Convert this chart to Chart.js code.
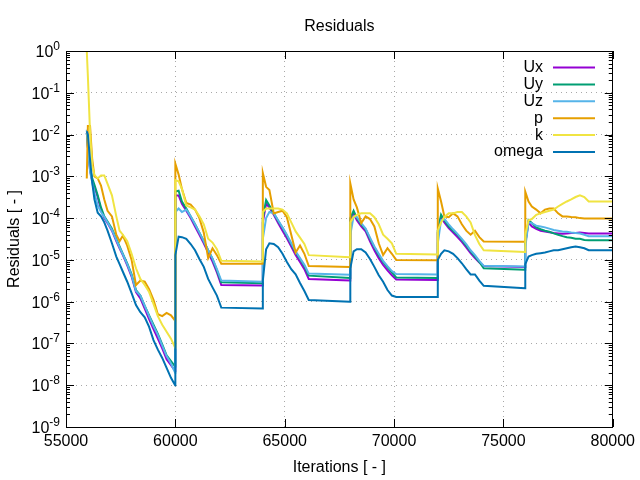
<!DOCTYPE html>
<html>
<head>
<meta charset="utf-8">
<title>Residuals</title>
<script src="https://cdn.jsdelivr.net/npm/chart.js@4.4.1/dist/chart.umd.min.js"></script>
<style>
body{margin:0;background:#fff}
</style>
</head>
<body>
<canvas id="residuals" width="640" height="480"></canvas>
<script>
const iterations=[
  55950,56000,56100,56200,56300,56450,56600,56750,56900,57100,57300,57450,57600,57800,58000,58200,58400,58600,58800,59000,59200,59400,59600,59800,59990,
  60000,60150,60300,60500,60700,60900,61100,61300,61500,61700,61900,62100,63990,
  64000,64150,64300,64500,64700,64900,65100,65300,65500,65700,65900,66100,67990,
  68000,68150,68300,68500,68700,68900,69100,69300,69500,69700,69900,70100,71990,
  72000,72150,72300,72500,72700,72900,73100,73300,73500,73700,73900,74100,75990,
  76000,76150,76300,76500,76700,76900,77100,77300,77500,77700,77900,78100,78300,78500,78700,78900,80000
]

const ux=[
  1.1e-2,5.0e-3,1.4e-3,7.9e-4,5.6e-4,3.2e-4,1.6e-4,1.0e-4,7.6e-5,5.0e-5,2.8e-5,1.9e-5,1.3e-5,7.4e-6,4.0e-6,1.7e-6,1.2e-6,6.8e-7,3.8e-7,2.2e-7,1.3e-7,7.6e-8,4.2e-8,3.0e-8,2.2e-8,
  3.5e-4,3.5e-4,2.2e-4,1.5e-4,1.0e-4,6.3e-5,4.0e-5,2.5e-5,1.5e-5,9.1e-6,5.0e-6,2.5e-6,2.45e-6,
  7.9e-5,2.2e-4,1.8e-4,1.2e-4,7.6e-5,5.0e-5,3.3e-5,2.1e-5,1.3e-5,8.9e-6,6.0e-6,3.5e-6,3.2e-6,
  7.9e-5,1.3e-4,8.9e-5,6.3e-5,4.8e-5,2.8e-5,1.7e-5,1.1e-5,7.6e-6,5.6e-6,4.3e-6,3.4e-6,3.3e-6,
  4.5e-5,1.05e-4,7.9e-5,5.8e-5,4.5e-5,3.5e-5,2.7e-5,2.0e-5,1.45e-5,1.1e-5,8.7e-6,7.1e-6,6.8e-6,
  2.5e-5,7.9e-5,6.3e-5,5.5e-5,5.0e-5,4.8e-5,4.6e-5,4.4e-5,4.3e-5,4.2e-5,4.3e-5,4.4e-5,4.4e-5,4.5e-5,4.4e-5,4.3e-5,4.3e-5
]
const uy=[
  1.1e-2,5.0e-3,1.6e-3,8.9e-4,6.3e-4,3.5e-4,1.8e-4,1.1e-4,8.3e-5,5.6e-5,3.2e-5,2.1e-5,1.4e-5,8.3e-6,4.5e-6,1.9e-6,1.4e-6,7.9e-7,4.7e-7,2.8e-7,1.7e-7,9.5e-8,5.2e-8,3.8e-8,2.8e-8,
  4.3e-4,4.5e-4,2.5e-4,1.7e-4,1.1e-4,7.1e-5,4.5e-5,2.8e-5,1.7e-5,1.05e-5,5.6e-6,2.9e-6,2.75e-6,
  1.0e-4,2.7e-4,2.0e-4,1.3e-4,8.5e-5,5.8e-5,3.8e-5,2.4e-5,1.5e-5,1.05e-5,7.1e-6,4.2e-6,3.7e-6,
  1.0e-4,1.5e-4,1.0e-4,7.1e-5,5.4e-5,3.2e-5,2.0e-5,1.3e-5,8.9e-6,6.6e-6,5.0e-6,3.8e-6,3.7e-6,
  5.0e-5,1.2e-4,8.9e-5,6.3e-5,5.0e-5,4.0e-5,3.0e-5,2.2e-5,1.6e-5,1.2e-5,8.9e-6,6.3e-6,5.8e-6,
  2.5e-5,8.9e-5,7.6e-5,6.0e-5,5.4e-5,5.0e-5,4.7e-5,4.3e-5,4.0e-5,3.7e-5,3.5e-5,3.4e-5,3.2e-5,3.2e-5,3.0e-5,2.95e-5,2.95e-5
]
const uz=[
  1.3e-2,5.0e-3,1.3e-3,7.1e-4,4.0e-4,2.0e-4,1.4e-4,1.07e-4,7.9e-5,5.2e-5,3.0e-5,2.0e-5,1.35e-5,7.9e-6,4.3e-6,1.8e-6,1.4e-6,7.9e-7,4.5e-7,2.6e-7,1.6e-7,8.9e-8,5.0e-8,3.3e-8,2.0e-8,
  1.4e-4,1.7e-4,1.4e-4,1.6e-4,1.1e-4,7.1e-5,4.5e-5,2.8e-5,1.7e-5,1.07e-5,6.0e-6,3.2e-6,3.0e-6,
  3.2e-5,1.0e-4,1.4e-4,1.3e-4,8.9e-5,6.0e-5,4.0e-5,2.5e-5,1.6e-5,1.1e-5,7.6e-6,4.7e-6,4.4e-6,
  4.0e-5,1.1e-4,1.05e-4,7.6e-5,5.6e-5,3.4e-5,2.1e-5,1.4e-5,9.5e-6,7.1e-6,5.4e-6,4.6e-6,4.5e-6,
  2.5e-5,8.9e-5,9.5e-5,7.1e-5,5.4e-5,4.2e-5,3.2e-5,2.4e-5,1.7e-5,1.3e-5,9.5e-6,7.2e-6,6.9e-6,
  2.0e-5,7.9e-5,7.6e-5,6.6e-5,6.3e-5,6.0e-5,5.6e-5,5.2e-5,5.0e-5,4.8e-5,4.7e-5,4.5e-5,4.4e-5,4.3e-5,4.0e-5,3.7e-5,3.7e-5
]
const p=[
  8.9e-4,1.6e-2,1.6e-2,2.5e-3,1.0e-3,8.9e-4,6.0e-4,2.8e-4,1.5e-4,1.1e-4,4.0e-5,2.8e-5,3.8e-5,2.2e-5,1.0e-5,2.5e-6,3.2e-6,3.0e-6,2.0e-6,1.1e-6,5.0e-7,4.5e-7,5.4e-7,4.7e-7,3.5e-7,
  2.0e-3,1.1e-3,5.0e-4,2.3e-4,2.1e-4,1.6e-4,1.0e-4,4.5e-5,1.1e-5,1.9e-5,1.3e-5,8.1e-6,8.1e-6,
  1.2e-3,5.6e-4,4.7e-4,1.3e-4,1.4e-4,1.5e-4,1.05e-4,4.0e-5,1.5e-5,2.2e-5,1.4e-5,7.1e-6,6.8e-6,
  6.8e-4,2.8e-4,1.8e-4,7.6e-5,1.1e-4,9.5e-5,6.3e-5,2.5e-5,1.3e-5,1.9e-5,1.4e-5,1.0e-5,9.8e-6,
  5.1e-4,2.5e-4,1.1e-4,1.05e-4,1.3e-4,1.1e-4,7.1e-5,5.0e-5,4.0e-5,5.0e-5,3.5e-5,2.75e-5,2.7e-5,
  4.3e-4,2.5e-4,1.9e-4,1.6e-4,1.3e-4,1.6e-4,1.7e-4,1.7e-4,1.3e-4,1.1e-4,1.1e-4,1.07e-4,1.05e-4,1.0e-4,9.8e-5,9.8e-5,9.8e-5
]
const k=[
  1.0,2.5e-1,1.1e-2,1.8e-3,1.07e-3,8.9e-4,1.05e-3,1.05e-3,6.6e-4,3.5e-4,1.1e-4,5.0e-5,4.0e-5,2.8e-5,1.4e-5,6.3e-6,3.5e-6,2.5e-6,1.7e-6,8.9e-7,4.5e-7,2.8e-7,1.9e-7,1.3e-7,7.9e-8,
  8.1e-4,7.6e-4,5.0e-4,2.0e-4,1.8e-4,1.6e-4,1.1e-4,7.1e-5,3.2e-5,2.6e-5,1.8e-5,9.5e-6,9.1e-6,
  1.4e-4,1.7e-4,1.7e-4,1.7e-4,1.7e-4,1.6e-4,1.3e-4,7.9e-5,4.8e-5,3.4e-5,2.4e-5,1.3e-5,1.15e-5,
  7.9e-5,1.07e-4,1.2e-4,1.3e-4,1.3e-4,1.3e-4,1.05e-4,7.1e-5,4.0e-5,3.2e-5,2.5e-5,1.4e-5,1.35e-5,
  5.0e-5,7.9e-5,1.07e-4,1.3e-4,1.3e-4,1.4e-4,1.4e-4,1.1e-4,7.9e-5,3.9e-5,2.4e-5,1.7e-5,1.55e-5,
  4.0e-5,8.9e-5,9.5e-5,1.2e-4,1.3e-4,1.4e-4,1.5e-4,1.6e-4,1.9e-4,2.2e-4,2.5e-4,2.8e-4,3.2e-4,3.5e-4,3.2e-4,2.5e-4,2.5e-4
]
const omega=[
  1.2e-2,1.0e-2,2.5e-3,7.1e-4,2.8e-4,1.35e-4,1.1e-4,7.9e-5,5.0e-5,2.5e-5,1.2e-5,7.9e-6,5.2e-6,3.0e-6,1.6e-6,8.3e-7,5.6e-7,4.2e-7,2.5e-7,1.2e-7,7.1e-8,4.5e-8,2.6e-8,1.5e-8,1.0e-8,
  1.3e-5,3.6e-5,3.5e-5,3.2e-5,2.4e-5,1.7e-5,1.05e-5,6.8e-6,3.5e-6,2.2e-6,1.4e-6,7.2e-7,6.9e-7,
  3.2e-6,1.8e-5,2.5e-5,2.4e-5,2.0e-5,1.4e-5,8.9e-6,6.0e-6,4.5e-6,2.8e-6,1.8e-6,1.1e-6,1.0e-6,
  6.3e-6,1.6e-5,1.8e-5,1.8e-5,1.5e-5,1.05e-5,6.8e-6,4.3e-6,3.0e-6,1.9e-6,1.4e-6,1.3e-6,1.3e-6,
  1.0e-5,1.4e-5,1.7e-5,1.6e-5,1.4e-5,1.1e-5,8.3e-6,6.0e-6,4.5e-6,4.5e-6,3.2e-6,2.4e-6,2.1e-6,
  7.9e-6,1.2e-5,1.3e-5,1.4e-5,1.45e-5,1.5e-5,1.6e-5,1.7e-5,1.7e-5,1.8e-5,1.9e-5,2.0e-5,2.1e-5,2.0e-5,1.9e-5,1.7e-5,1.7e-5
]

const xTicks=[55000,60000,65000,70000,75000,80000]
const yExponents=[0,-1,-2,-3,-4,-5,-6,-7,-8,-9]

const FONT='"Liberation Sans", Arial, sans-serif'
Chart.defaults.font.family=FONT
Chart.defaults.font.size=16
Chart.defaults.color="#000"

function series(label,values,color,order){
  return {
    label:label,
    data:iterations.map((it,i)=>({x:it,y:values[i]})),
    borderColor:color,
    backgroundColor:color,
    borderWidth:2,
    pointRadius:0,
    tension:0,
    order:order,
  }
}

// gnuplot look: box border, inward ticks, 10^n labels, key and title
const gnuplotFrame={
  id:"gnuplotFrame",
  afterDatasetsDraw(chart){
    const c=chart.ctx
    const a=chart.chartArea
    const x=chart.scales.x
    const y=chart.scales.y
    c.save()
    c.strokeStyle="#000"
    c.lineWidth=1
    c.beginPath()
    xTicks.forEach(v=>{
      const px=Math.round(x.getPixelForValue(v))+0.5
      c.moveTo(px,a.bottom);c.lineTo(px,a.bottom-8)
      c.moveTo(px,a.top);c.lineTo(px,a.top+8)
    })
    yExponents.forEach(e=>{
      for(let m=1;m<=9;m++){
        const v=m*Math.pow(10,e)
        if(v>1) break
        const py=Math.round(y.getPixelForValue(v))+0.5
        const len=m===1?8:4
        c.moveTo(a.left,py);c.lineTo(a.left+len,py)
        c.moveTo(a.right,py);c.lineTo(a.right-len,py)
      }
    })
    c.stroke()
    c.strokeRect(Math.round(a.left)+0.5,Math.round(a.top)+0.5,Math.round(a.width)-1,Math.round(a.height))

    // y tick labels with superscript exponent
    c.fillStyle="#000"
    c.textAlign="right"
    c.textBaseline="alphabetic"
    yExponents.forEach(e=>{
      const py=y.getPixelForValue(Math.pow(10,e))
      const sup=String(e)
      c.font="12px "+FONT
      const sw=c.measureText(sup).width
      c.fillText(sup,a.left-6,py-1)
      c.font="16px "+FONT
      c.fillText("10",a.left-6-sw,py+6)
    })

    // title
    c.font="16px "+FONT
    c.textAlign="center"
    c.textBaseline="middle"
    c.fillText("Residuals",(a.left+a.right)/2,27)

    // key
    c.textAlign="right"
    chart.data.datasets.forEach((ds,i)=>{
      const ky=67.5+i*16.9
      c.fillStyle="#000"
      c.fillText(ds.label,543,ky)
      c.strokeStyle=ds.borderColor
      c.lineWidth=2
      c.beginPath()
      c.moveTo(553,ky);c.lineTo(595,ky)
      c.stroke()
    })
    c.restore()
  }
}

new Chart(document.getElementById("residuals"),{
  type:"line",
  data:{
    datasets:[
      series("Ux",ux,"#9400d3",6),
      series("Uy",uy,"#009e73",5),
      series("Uz",uz,"#56b4e9",4),
      series("p",p,"#e69f00",3),
      series("k",k,"#f0e442",2),
      series("omega",omega,"#0072b2",1),
    ],
  },
  options:{
    responsive:false,
    animation:false,
    devicePixelRatio:1,
    layout:{padding:{top:51,right:26,left:0,bottom:0}},
    plugins:{
      legend:{display:false},
      tooltip:{enabled:false},
      title:{display:false},
    },
    scales:{
      x:{
        type:"linear",
        min:55000,
        max:80000,
        afterBuildTicks:s=>{s.ticks=xTicks.map(v=>({value:v}))},
        afterFit:s=>{s.height=53},
        ticks:{
          autoSkip:false,
          maxRotation:0,
          padding:5,
          callback:v=>String(v),
        },
        grid:{color:"#a8a8a8",drawTicks:false},
        border:{display:false,dash:[1,4]},
        title:{display:true,text:"Iterations [ - ]",padding:{top:0,bottom:3}},
      },
      y:{
        type:"logarithmic",
        min:1e-9,
        max:1,
        afterBuildTicks:s=>{s.ticks=yExponents.map(e=>({value:Math.pow(10,e)}))},
        afterFit:s=>{s.width=66},
        ticks:{display:false},
        grid:{color:"#a8a8a8",drawTicks:false},
        border:{display:false,dash:[1,4]},
        title:{display:true,text:"Residuals [ - ]",padding:{top:5,bottom:0}},
      },
    },
  },
  plugins:[gnuplotFrame],
})
</script>
</body>
</html>
